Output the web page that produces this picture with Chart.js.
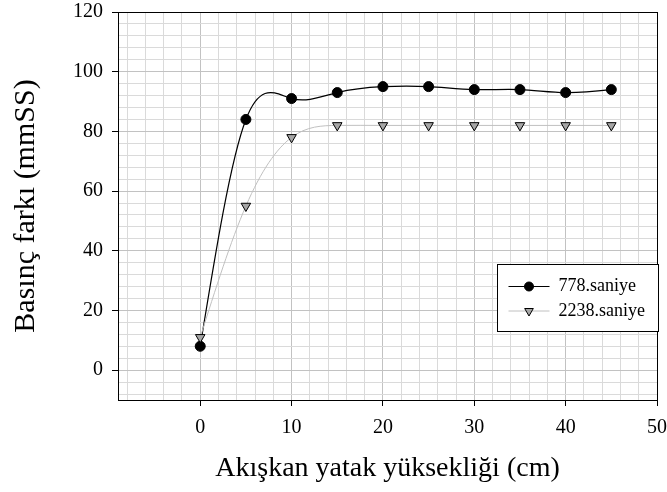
<!DOCTYPE html>
<html>
<head>
<meta charset="utf-8">
<script src="https://cdn.jsdelivr.net/npm/chart.js@4/dist/chart.umd.min.js"></script>
<style>
body{margin:0;background:#fff}
</style>
</head>
<body>
<canvas id="chart1" width="667" height="492"></canvas>
<script>
// yatak yuksekligi (cm) ve basinc farki (mmSS)
const heights = [0, 5, 10, 15, 20, 25, 30, 35, 40, 45]
const s778 = [8, 84, 91, 93, 95, 95, 94, 94, 93, 94]
const s2238 = [11, 55, 78, 82, 82, 82, 82, 82, 82, 82]
const seriesNames = ["778.saniye", "2238.saniye"]
const xTitle = "Akışkan yatak yüksekliği (cm)"
const yTitle = "Basınç farkı (mmSS)"

const serif = "'Liberation Serif', 'DejaVu Serif', serif"
const minorGrid = "#dadada"
const majorGrid = "#c2c2c2"

function pts(vals){
  return heights.map((h, i) => ({x: h, y: vals[i]}))
}

function stepTicks(from, to, step){
  var t = []
  for (let v = from; v <= to; v += step) t.push({value: v})
  return t
}

// natural cubic spline through the points (pixel space), written as bezier handles
function naturalSpline(p){
  const n = p.length - 1
  if (n < 2) return
  const h = [], M = new Array(n + 1).fill(0)
  for (let i = 0; i < n; i++) h.push(p[i + 1].x - p[i].x)
  const a = [], b = [], c = [], d = []
  for (let i = 1; i < n; i++){
    a.push(h[i - 1]); b.push(2 * (h[i - 1] + h[i])); c.push(h[i])
    d.push(6 * ((p[i + 1].y - p[i].y) / h[i] - (p[i].y - p[i - 1].y) / h[i - 1]))
  }
  const m = b.length
  for (let i = 1; i < m; i++){
    const w = a[i] / b[i - 1]
    b[i] -= w * c[i - 1]; d[i] -= w * d[i - 1]
  }
  const sol = new Array(m)
  sol[m - 1] = d[m - 1] / b[m - 1]
  for (let i = m - 2; i >= 0; i--) sol[i] = (d[i] - c[i] * sol[i + 1]) / b[i]
  for (let i = 1; i < n; i++) M[i] = sol[i - 1]
  for (let i = 0; i < n; i++){
    const s = (p[i + 1].y - p[i].y) / h[i]
    const mL = s - h[i] * (2 * M[i] + M[i + 1]) / 6
    const mR = s + h[i] * (M[i] + 2 * M[i + 1]) / 6
    p[i].cp2x = p[i].x + h[i] / 3; p[i].cp2y = p[i].y + mL * h[i] / 3
    p[i + 1].cp1x = p[i + 1].x - h[i] / 3; p[i + 1].cp1y = p[i + 1].y - mR * h[i] / 3
  }
  p[0].cp1x = p[0].x; p[0].cp1y = p[0].y
  p[n].cp2x = p[n].x; p[n].cp2y = p[n].y
}

const splineFit = {
  id: 'splineFit',
  beforeDatasetDraw(chart, args){
    const line = args.meta.dataset
    if (!line) return
    if (line.updateControlPoints) line.updateControlPoints(chart.chartArea, 'x')
    line._pointsUpdated = true
    naturalSpline(args.meta.data)
  }
}

// frame round the plot area
const frame = {
  id: 'frame',
  afterDatasetsDraw(chart){
    const ctx = chart.ctx, a = chart.chartArea
    ctx.save()
    ctx.strokeStyle = '#000'
    ctx.lineWidth = 1
    ctx.strokeRect(Math.round(a.left) + 0.5, Math.round(a.top) + 0.5, Math.round(a.right - a.left), Math.round(a.bottom - a.top))
    ctx.restore()
  }
}

// legend drawn as a box with line + marker samples
const legendBox = {
  id: 'legendBox',
  afterDraw(chart){
    const ctx = chart.ctx, a = chart.chartArea
    const x = Math.round(a.right) - 160 + 0.5, y = Math.round(a.top) + 252 + 0.5
    ctx.save()
    ctx.fillStyle = '#fff'
    ctx.fillRect(x, y, 161, 67)
    ctx.strokeStyle = '#000'
    ctx.lineWidth = 1
    ctx.strokeRect(x, y, 161, 67)
    const rows = [y + 22, y + 46.5]
    chart.data.datasets.forEach((ds, i) => {
      const ry = rows[i]
      ctx.strokeStyle = ds.borderColor
      ctx.lineWidth = ds.borderWidth
      ctx.beginPath(); ctx.moveTo(x + 11, ry); ctx.lineTo(x + 52, ry); ctx.stroke()
      const cx = x + 31.5
      ctx.fillStyle = ds.pointBackgroundColor
      ctx.strokeStyle = ds.pointBorderColor
      ctx.lineWidth = 1
      ctx.beginPath()
      if (ds.pointStyle == 'circle') {
        ctx.arc(cx, ry, 4.5, 0, Math.PI * 2)
      } else {
        const r = 5
        ctx.moveTo(cx - r * 0.866, ry - r / 2)
        ctx.lineTo(cx + r * 0.866, ry - r / 2)
        ctx.lineTo(cx, ry + r)
        ctx.closePath()
      }
      ctx.fill(); ctx.stroke()
      ctx.fillStyle = '#000'
      ctx.font = "18px " + serif
      ctx.textBaseline = 'middle'
      ctx.fillText(ds.label, x + 61, ry)
    })
    ctx.restore()
  }
}

new Chart(document.getElementById('chart1'), {
  type: 'scatter',
  data: {
    datasets: [
      {label: seriesNames[0], data: pts(s778), showLine: true, fill: false,
       borderColor: '#000', borderWidth: 1.2, tension: 0.4,
       pointStyle: 'circle', pointRadius: 5, pointBackgroundColor: '#000', pointBorderColor: '#000',
       pointBorderWidth: 1, order: 1},
      {label: seriesNames[1], data: pts(s2238), showLine: true, fill: false,
       borderColor: '#c0c0c0', borderWidth: 1, tension: 0.4,
       pointStyle: 'triangle', pointRotation: 180, pointRadius: 5.5,
       pointBackgroundColor: '#a6a6a6', pointBorderColor: '#000', pointBorderWidth: 1, order: 0}
    ]
  },
  options: {
    responsive: false,
    animation: false,
    layout: {padding: 0},
    plugins: {legend: {display: false}, tooltip: {enabled: false}},
    scales: {
      x: {
        type: 'linear', position: 'bottom', min: -9, max: 50,
        afterBuildTicks: axis => { axis.ticks = stepTicks(-8, 50, 2) },
        afterFit: axis => { axis.height = 92; axis.paddingLeft = 0; axis.paddingRight = 10 },
        grid: {
          color: c => (c.tick && c.tick.value % 10 === 0) ? majorGrid : minorGrid,
          tickColor: c => (c.tick && c.tick.value % 10 === 0 && c.tick.value >= 0) ? '#000' : 'rgba(0,0,0,0)',
          tickLength: 6, lineWidth: 1
        },
        border: {display: true, color: '#000', width: 1},
        ticks: {
          autoSkip: false, maxRotation: 0, padding: 10, color: '#000',
          font: {family: serif, size: 20},
          callback: v => (v % 10 === 0 && v >= 0) ? String(v) : ''
        },
        title: {display: true, text: xTitle, color: '#000', font: {family: serif, size: 28},
                padding: {top: 0, bottom: 7}}
      },
      y: {
        type: 'linear', min: -10, max: 120,
        afterBuildTicks: axis => { axis.ticks = stepTicks(-8, 120, 4) },
        afterFit: axis => { axis.width = 118; axis.paddingTop = 12; axis.paddingBottom = 0 },
        grid: {
          color: c => (c.tick && c.tick.value % 20 === 0) ? majorGrid : minorGrid,
          tickColor: c => (c.tick && c.tick.value % 20 === 0 && c.tick.value >= 0) ? '#000' : 'rgba(0,0,0,0)',
          tickLength: 6, lineWidth: 1
        },
        border: {display: true, color: '#000', width: 1},
        ticks: {
          autoSkip: false, padding: 9, color: '#000',
          font: {family: serif, size: 20},
          callback: v => (v % 20 === 0 && v >= 0) ? String(v) : ''
        },
        title: {display: true, text: yTitle, color: '#000', font: {family: serif, size: 30},
                padding: {top: 8, bottom: 0}}
      }
    }
  },
  plugins: [splineFit, frame, legendBox]
})
</script>
</body>
</html>
